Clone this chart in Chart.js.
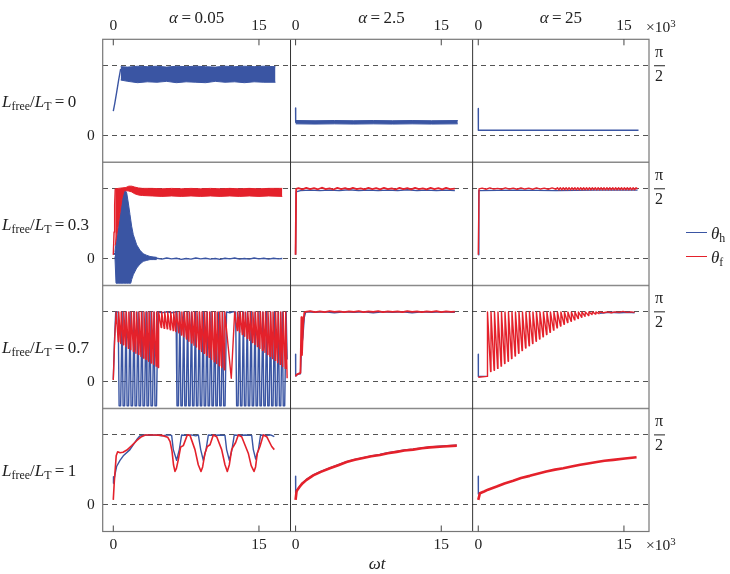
<!DOCTYPE html>
<html>
<head>
<meta charset="utf-8">
<script src="https://cdn.jsdelivr.net/npm/chart.js@4.4.1/dist/chart.umd.min.js"></script>
<style>
  html, body { margin: 0; padding: 0; background: #fff; }
  #wrap { position: relative; width: 730px; height: 574px; font-family: 'Liberation Serif', 'Times New Roman', serif; color: #222; }
  #chart { position: absolute; left: 0; top: 0; }
  .lbl { position: absolute; white-space: nowrap; line-height: 1; }
  .lbl sub { font-size: 70%; vertical-align: -0.3em; line-height: 0; }
  .lbl sup { font-size: 70%; vertical-align: 0.45em; line-height: 0; }
  .key { position: absolute; height: 0; border-top: 1.6px solid; width: 21px; }
</style>
</head>
<body>
<div id="wrap"><canvas id="chart" width="730" height="574"></canvas></div>
<script>
// ==========================
// Data (x in units of 10^3 ωt, y in rad)
// ==========================
const alphas = ['0.05', '2.5', '25'];
const ratios = ['0', '0.3', '0.7', '1'];
const xTicks = [0, 15];
const yTicks = [0, Math.PI / 2];

// row 1: Lfree/LT = 0
const thetaH_r1c1 = [[0,0.55],[0.15,0.72],[0.35,0.98],[0.55,1.25],[0.76,1.5]];
const bandH_r1c1_hi = [[0.76,1.55],[1.5,1.54],[2.5,1.56],[3.5,1.55],[4.5,1.56],[5.5,1.54],[6.5,1.56],[7.5,1.55],[8.5,1.56],[9.5,1.55],[10.5,1.54],[11.5,1.56],[12.5,1.55],[13.5,1.56],[14.5,1.55],[15.5,1.56],[16.7,1.55]];
const bandH_r1c1_lo = [[0.76,1.25],[1.5,1.22],[2.5,1.19],[3.5,1.21],[4.5,1.2],[5.5,1.22],[6.5,1.19],[7.5,1.21],[8.5,1.2],[9.5,1.19],[10.5,1.22],[11.5,1.2],[12.5,1.21],[13.5,1.19],[14.5,1.21],[15.5,1.2],[16.7,1.2]];
const thetaH_r1c2 = [[0,0.62],[0.01,0.3]];
const bandH_r1c2_hi = [[0.01,0.34],[2,0.335],[4,0.34],[6,0.335],[8,0.34],[10,0.335],[12,0.34],[14,0.335],[16.7,0.34]];
const bandH_r1c2_lo = [[0.01,0.265],[2,0.26],[4,0.265],[6,0.26],[8,0.265],[10,0.26],[12,0.265],[14,0.26],[16.7,0.265]];
const thetaH_r1c3 = [[0,0.61],[0.01,0.12],[4,0.12],[8,0.12],[12,0.12],[16.5,0.12]];

// row 2: Lfree/LT = 0.3
const thetaH_r2c1 = [[0,0.09],[0.1,0.12],[0.17,0.1],[4.47,0.01],[5,-0.01],[5.5,0.015],[6,-0.005],[6.5,0.01],[7,-0.015],[7.5,0.005],[8,-0.01],[8.5,0.015],[9,-0.005],[9.5,0.01],[10,-0.01],[10.5,0.005],[11,-0.015],[11.5,0.01],[12,-0.005],[12.5,0.015],[13,-0.01],[13.5,0.005],[14,-0.01],[14.5,0.015],[15,-0.005],[15.5,0.01],[16,-0.01],[16.5,0.01],[17,-0.005],[17.4,0.005]];
const bandH_r2c1_hi = [[0.17,0.15],[0.28,0.35],[0.5,0.7],[0.7,1.03],[0.9,1.35],[1.03,1.51],[1.2,1.55],[1.38,1.48],[1.55,1.25],[1.72,0.99],[1.89,0.73],[2.06,0.54],[2.41,0.31],[2.75,0.19],[3.09,0.11],[3.4,0.08],[3.78,0.05],[4.1,0.04],[4.47,0.03]];
const bandH_r2c1_lo = [[0.17,0.05],[0.28,-0.55],[0.5,-0.55],[0.7,-0.55],[0.9,-0.55],[1.03,-0.55],[1.2,-0.55],[1.38,-0.55],[1.55,-0.55],[1.8,-0.55],[1.89,-0.47],[2.06,-0.36],[2.41,-0.21],[2.75,-0.12],[3.09,-0.06],[3.4,-0.04],[3.78,-0.02],[4.1,-0.02],[4.47,-0.02]];
const thetaF_r2c1 = [[0,0.09],[0.08,0.6],[0.14,1.2],[0.2,1.57]];
const bandF_r2c1_hi = [[0.2,1.57],[0.5,1.58],[0.9,1.59],[1.3,1.6],[1.6,1.63],[1.9,1.63],[2.2,1.61],[2.6,1.59],[3,1.58],[4,1.58],[5,1.57],[6,1.58],[7,1.57],[8,1.58],[9,1.57],[10,1.58],[11,1.57],[12,1.58],[13,1.57],[14,1.58],[15,1.57],[16,1.58],[17.4,1.58]];
const bandF_r2c1_lo = [[0.2,0.3],[0.5,0.75],[0.9,1.35],[1.1,1.52],[1.3,1.53],[1.6,1.52],[1.9,1.5],[2.2,1.46],[2.6,1.43],[3,1.42],[4,1.41],[5,1.4],[6,1.41],[7,1.4],[8,1.41],[9,1.4],[10,1.41],[11,1.4],[12,1.41],[13,1.4],[14,1.41],[15,1.4],[16,1.41],[17.4,1.4]];
const thetaH_r2c2 = [[0,0.09],[0.05,1.5],[0.5,1.53],[1.5,1.54],[2.5,1.53],[3.5,1.54],[4.5,1.53],[5.5,1.55],[6.5,1.53],[7.5,1.54],[8.5,1.53],[9.5,1.54],[10.5,1.53],[11.5,1.55],[12.5,1.53],[13.5,1.54],[14.5,1.53],[15.5,1.54],[16.4,1.53]];
const thetaF_r2c2 = [[0,0.09],[0.06,1.57],[0.3,1.585],[0.7,1.56],[1.1,1.59],[1.5,1.565],[1.9,1.585],[2.3,1.56],[2.7,1.595],[3.1,1.565],[3.5,1.58],[3.9,1.555],[4.3,1.59],[4.7,1.565],[5.1,1.585],[5.5,1.56],[5.9,1.59],[6.3,1.565],[6.7,1.58],[7.1,1.56],[7.5,1.59],[7.9,1.565],[8.3,1.585],[8.7,1.56],[9.1,1.59],[9.5,1.565],[9.9,1.58],[10.3,1.555],[10.7,1.59],[11.1,1.565],[11.5,1.585],[11.9,1.56],[12.3,1.59],[12.7,1.565],[13.1,1.58],[13.5,1.56],[13.9,1.59],[14.3,1.565],[14.7,1.585],[15.1,1.56],[15.5,1.59],[15.9,1.565],[16.4,1.575]];
const thetaH_r2c3 = [[0,0.09],[0.06,1.53],[4,1.54],[8,1.53],[12,1.54],[16.4,1.54]];
const thetaF_r2c3 = [[0,0.09],[0.08,1.57],[0.4,1.585],[0.8,1.56],[1.2,1.59],[1.6,1.565],[2,1.58],[2.4,1.56],[2.8,1.59],[3.2,1.565],[3.6,1.585],[4,1.56],[4.4,1.59],[4.8,1.565],[5.2,1.585],[5.6,1.56],[6,1.59],[6.4,1.565],[6.8,1.585],[7.2,1.56],[7.6,1.59],[8,1.56],
  [8.15,1.595],[8.3,1.55],[8.45,1.595],[8.6,1.55],[8.75,1.595],[8.9,1.55],[9.05,1.595],[9.2,1.55],[9.35,1.595],[9.5,1.55],[9.65,1.595],[9.8,1.55],[9.95,1.595],[10.1,1.55],[10.25,1.595],[10.4,1.55],[10.55,1.595],[10.7,1.55],[10.85,1.595],[11,1.55],[11.15,1.595],[11.3,1.55],[11.45,1.595],[11.6,1.55],[11.75,1.595],[11.9,1.55],[12.05,1.595],[12.2,1.55],[12.35,1.595],[12.5,1.55],[12.65,1.595],[12.8,1.55],[12.95,1.595],[13.1,1.55],[13.25,1.595],[13.4,1.55],[13.55,1.595],[13.7,1.55],[13.85,1.595],[14,1.55],[14.15,1.595],[14.3,1.55],[14.45,1.595],[14.6,1.55],[14.75,1.595],[14.9,1.55],[15.05,1.595],[15.2,1.55],[15.35,1.595],[15.5,1.55],[15.65,1.595],[15.8,1.55],[15.95,1.595],[16.1,1.55],[16.25,1.595],[16.4,1.57]];

// row 3: Lfree/LT = 0.7
const thetaH_r3c1 = [[0,0.05],[0.12,0.9],[0.25,1.57],[0.5,1.57],
  [0.6,-0.54],[0.76,-0.54],[0.91,1.57],[1.01,-0.54],[1.17,-0.54],[1.32,1.57],[1.42,-0.54],[1.58,-0.54],[1.73,1.57],
  [1.83,-0.54],[1.99,-0.54],[2.14,1.57],[2.24,-0.54],[2.4,-0.54],[2.55,1.57],[2.65,-0.54],[2.81,-0.54],[2.96,1.57],
  [3.06,-0.54],[3.22,-0.54],[3.37,1.57],[3.47,-0.54],[3.63,-0.54],[3.78,1.57],[3.88,-0.54],[4.04,-0.54],[4.19,1.57],
  [4.29,-0.54],[4.45,-0.54],[4.6,1.57],[5,1.55],[5.5,1.57],[6,1.55],[6.46,1.57],
  [6.56,-0.54],[6.71,-0.54],[6.86,1.57],[6.96,-0.54],[7.11,-0.54],[7.26,1.57],[7.36,-0.54],[7.51,-0.54],[7.66,1.57],
  [7.76,-0.54],[7.91,-0.54],[8.06,1.57],[8.16,-0.54],[8.31,-0.54],[8.46,1.57],[8.56,-0.54],[8.71,-0.54],[8.86,1.57],
  [8.96,-0.54],[9.11,-0.54],[9.26,1.57],[9.36,-0.54],[9.51,-0.54],[9.66,1.57],[9.76,-0.54],[9.91,-0.54],[10.06,1.57],
  [10.16,-0.54],[10.31,-0.54],[10.46,1.57],[10.56,-0.54],[10.71,-0.54],[10.86,1.57],[10.96,-0.54],[11.11,-0.54],[11.26,1.57],
  [11.36,-0.54],[11.51,-0.54],[11.66,1.57],[12,1.55],[12.3,1.57],[12.6,1.57],
  [12.7,-0.54],[12.85,-0.54],[13,1.57],[13.1,-0.54],[13.25,-0.54],[13.4,1.57],[13.5,-0.54],[13.65,-0.54],[13.8,1.57],
  [13.9,-0.54],[14.05,-0.54],[14.2,1.57],[14.3,-0.54],[14.45,-0.54],[14.6,1.57],[14.7,-0.54],[14.85,-0.54],[15,1.57],
  [15.1,-0.54],[15.25,-0.54],[15.4,1.57],[15.5,-0.54],[15.65,-0.54],[15.8,1.57],[15.9,-0.54],[16.05,-0.54],[16.2,1.57],
  [16.3,-0.54],[16.45,-0.54],[16.6,1.57],[16.7,-0.54],[16.85,-0.54],[17,1.57],[17.1,-0.54],[17.25,-0.54],[17.4,1.57],
  [17.5,-0.54],[17.65,-0.54],[17.8,1.57],[17.9,0.5]];
const thetaF_r3c1 = [[0,0.04],[0.15,1.0],[0.3,1.57],
  [0.51,0.9],[0.56,1.57],[0.77,0.86],[0.82,1.57],[1.03,0.83],[1.08,1.57],[1.29,0.79],[1.34,1.57],[1.55,0.75],[1.6,1.57],
  [1.81,0.72],[1.86,1.57],[2.07,0.68],[2.12,1.57],[2.33,0.64],[2.38,1.57],[2.59,0.61],[2.64,1.57],[2.85,0.57],[2.9,1.57],
  [3.11,0.53],[3.16,1.57],[3.37,0.5],[3.42,1.57],[3.63,0.46],[3.68,1.57],[3.89,0.42],[3.94,1.57],[4.15,0.39],[4.2,1.57],
  [4.41,0.35],[4.46,1.57],[4.62,0.32],[4.67,1.57],
  [4.93,1.22],[4.98,1.57],[5.24,1.2],[5.29,1.57],[5.55,1.19],[5.6,1.57],[5.86,1.17],[5.91,1.57],[6.17,1.15],[6.22,1.57],[6.44,1.13],[6.49,1.57],
  [6.75,1.1],[6.8,1.57],[7.01,1.05],[7.06,1.57],[7.27,1.01],[7.32,1.57],[7.53,0.96],[7.58,1.57],[7.79,0.91],[7.84,1.57],
  [8.05,0.87],[8.1,1.57],[8.31,0.82],[8.36,1.57],[8.57,0.78],[8.62,1.57],[8.83,0.73],[8.88,1.57],[9.09,0.68],[9.14,1.57],
  [9.35,0.64],[9.4,1.57],[9.61,0.59],[9.66,1.57],[9.87,0.55],[9.92,1.57],[10.13,0.5],[10.18,1.57],[10.39,0.45],[10.44,1.57],
  [10.65,0.41],[10.7,1.57],[10.91,0.36],[10.96,1.57],[11.17,0.32],[11.22,1.57],[11.43,0.27],[11.48,1.57],
  [12.15,0.08],[12.5,1.57],
  [12.76,1.15],[12.81,1.57],[13.02,1.11],[13.07,1.57],[13.28,1.06],[13.33,1.57],[13.54,1.02],[13.59,1.57],[13.8,0.97],[13.85,1.57],
  [14.06,0.93],[14.11,1.57],[14.32,0.88],[14.37,1.57],[14.58,0.84],[14.63,1.57],[14.84,0.79],[14.89,1.57],[15.1,0.75],[15.15,1.57],
  [15.36,0.7],[15.41,1.57],[15.62,0.66],[15.67,1.57],[15.88,0.61],[15.93,1.57],[16.14,0.57],[16.19,1.57],[16.4,0.52],[16.45,1.57],
  [16.66,0.48],[16.71,1.57],[16.92,0.43],[16.97,1.57],[17.18,0.39],[17.23,1.57],[17.44,0.34],[17.49,1.57],[17.7,0.3],[17.75,1.57],
  [17.9,0.08]];
const thetaH_r3c2 = [[0,0.62],[0.01,0.13],[0.25,0.17],[0.5,0.18],[0.62,0.8],[0.75,1.0],[0.9,1.45],[1.05,1.57],[2,1.56],[3,1.57],[4,1.55],[5,1.57],[6,1.56],[7,1.57],[8,1.55],[9,1.57],[10,1.56],[11,1.57],[12,1.55],[13,1.57],[14,1.56],[15,1.57],[16.4,1.56]];
const thetaF_r3c2 = [[0,0.12],[0.1,0.16],[0.5,0.2],[0.6,1.45],[0.66,0.6],[0.78,1.3],[0.9,1.55],[1,1.57],[1.5,1.585],[2,1.565],[2.5,1.58],[3,1.565],[3.5,1.585],[4,1.57],[4.5,1.58],[5,1.565],[5.5,1.58],[6,1.57],[6.5,1.585],[7,1.565],[7.5,1.58],[8,1.57],[8.5,1.585],[9,1.565],[9.5,1.58],[10,1.57],[10.5,1.58],[11,1.565],[11.5,1.585],[12,1.57],[12.5,1.58],[13,1.565],[13.5,1.58],[14,1.57],[14.5,1.585],[15,1.565],[15.5,1.58],[16,1.57],[16.4,1.575]];
const thetaH_r3c3 = [[0,0.62],[0.01,0.12],[0.9,0.12],[1,null],[12.5,1.54],[13.5,1.56],[14.5,1.55],[15.5,1.56],[16.1,1.55]];
const thetaF_r3c3 = [[0,0.1],[0.9,0.12],[0.95,1.57],
  [1.27,0.23],[1.31,1.57],[1.63,0.26],[1.67,1.57],[1.99,0.3],[2.03,1.57],[2.35,0.35],[2.39,1.57],[2.71,0.41],[2.75,1.57],
  [3.07,0.46],[3.11,1.57],[3.43,0.52],[3.47,1.57],[3.79,0.58],[3.83,1.57],[4.15,0.64],[4.19,1.57],[4.51,0.7],[4.55,1.57],
  [4.87,0.76],[4.91,1.57],[5.23,0.81],[5.27,1.57],[5.59,0.86],[5.63,1.57],[5.95,0.91],[5.99,1.57],[6.31,0.96],[6.35,1.57],
  [6.67,1.01],[6.71,1.57],[7.03,1.06],[7.07,1.57],[7.39,1.11],[7.43,1.57],[7.75,1.16],[7.79,1.57],[8.11,1.21],[8.15,1.57],
  [8.47,1.25],[8.51,1.57],[8.83,1.29],[8.87,1.57],[9.19,1.33],[9.23,1.57],[9.55,1.36],[9.59,1.57],[9.91,1.39],[9.95,1.57],
  [10.27,1.42],[10.31,1.57],[10.63,1.45],[10.67,1.57],[10.99,1.47],[11.03,1.57],[11.35,1.49],[11.39,1.57],[11.71,1.51],[11.75,1.57],
  [12.07,1.52],[12.11,1.57],[12.43,1.53],[12.47,1.57],
  [12.9,1.55],[13.3,1.57],[13.7,1.55],[14.1,1.57],[14.5,1.56],[14.9,1.58],[15.3,1.56],[15.7,1.57],[16.1,1.56]];

// row 4: Lfree/LT = 1
const thetaH_r4c1 = [[0,0.48],[0.02,0.63],[0.1,0.6],[0.34,0.86],[0.69,1.0],[1.03,1.1],[1.72,1.24],[2.4,1.46],[2.75,1.55],[3.2,1.57],[3.8,1.56],[4.4,1.57],[5,1.55],[5.6,1.57],[6.01,1.56],[6.18,1.24],[6.52,1.0],[6.8,1.24],[7.04,1.57],[7.5,1.56],[8,1.57],[8.5,1.55],[8.76,1.57],[9,1.24],[9.27,1.0],[9.55,1.24],[9.79,1.57],[10.3,1.56],[10.9,1.57],[11.5,1.56],[11.67,1.24],[11.95,1.0],[12.22,1.24],[12.46,1.57],[13,1.56],[13.6,1.57],[14.25,1.56],[14.42,1.24],[14.66,1.03],[14.94,1.24],[15.17,1.57],[15.7,1.56],[16.2,1.57],[16.58,1.53]];
const thetaF_r4c1 = [[0,0.11],[0.1,0.5],[0.3,1.1],[0.45,1.19],[0.7,1.17],[1,1.18],[1.4,1.23],[1.9,1.33],[2.4,1.44],[2.9,1.53],[3.3,1.57],[4.2,1.57],[5,1.56],[5.6,1.52],[5.85,1.42],[6.05,1.2],[6.2,0.9],[6.35,0.75],[6.5,0.82],[6.69,1.01],[6.94,1.3],[7.21,1.33],[7.62,1.57],[7.9,1.56],[8.41,1.24],[8.75,0.9],[9.03,0.75],[9.2,0.85],[9.44,1.16],[9.68,1.31],[9.96,1.35],[10.3,1.57],[10.65,1.53],[11.16,1.24],[11.5,0.9],[11.74,0.75],[11.95,0.9],[12.19,1.24],[12.36,1.31],[12.6,1.4],[12.87,1.57],[13.22,1.53],[13.9,1.16],[14.2,0.88],[14.49,0.75],[14.65,0.85],[14.83,1.16],[15.1,1.31],[15.45,1.57],[15.8,1.53],[16.31,1.31],[16.58,1.24]];
const thetaH_r4c2 = [[0,0.64],[0.01,0.24],[0.1,0.31],[0.2,0.35],[0.44,0.42],[0.7,0.49],[1.13,0.57],[1.82,0.67],[2.6,0.75],[3.53,0.83],[4.4,0.9],[5.25,0.97],[6.1,1.02],[6.96,1.06],[7.8,1.1],[8.68,1.13],[9.5,1.17],[10.4,1.2],[11.2,1.23],[12.1,1.25],[13,1.28],[13.8,1.3],[15.2,1.32],[16.6,1.34]];
const thetaF_r4c2 = [[0,0.11],[0.1,0.3],[0.2,0.34],[0.44,0.41],[0.7,0.48],[1.13,0.56],[1.82,0.66],[2.6,0.74],[3.53,0.82],[4.4,0.89],[5.25,0.96],[6.1,1.01],[6.96,1.05],[7.8,1.09],[8.68,1.12],[9.5,1.16],[10.4,1.19],[11.2,1.22],[12.1,1.24],[13,1.27],[13.8,1.29],[15.2,1.31],[16.6,1.33]];
const thetaH_r4c3 = [[0,0.64],[0.01,0.24],[0.17,0.26]];
const thetaF_r4c3 = [[0,0.11],[0.17,0.26],[0.6,0.3],[1,0.34],[1.9,0.41],[2.7,0.48],[3.6,0.54],[4.4,0.6],[5.3,0.65],[6.1,0.7],[7,0.75],[7.9,0.79],[8.75,0.82],[9.6,0.86],[10.5,0.9],[11.3,0.93],[12.2,0.96],[13,0.99],[13.9,1.01],[15.1,1.04],[16.3,1.07]];

// ==========================
// Panel setup
// ==========================
const BLUE = '#3a55a3';
const RED = '#e4212b';
const SERIF = "'Liberation Serif', 'Times New Roman', serif";
const colRanges = [[-1.09, 18.25], [-0.52, 18.23], [-0.58, 17.58]];
const yMin = -0.6, yMax = 2.165;

const panels = [
  { r: 0, c: 0, h: thetaH_r1c1, hBand: [bandH_r1c1_hi, bandH_r1c1_lo] },
  { r: 0, c: 1, h: thetaH_r1c2, hBand: [bandH_r1c2_hi, bandH_r1c2_lo] },
  { r: 0, c: 2, h: thetaH_r1c3 },
  { r: 1, c: 0, h: thetaH_r2c1, hBand: [bandH_r2c1_hi, bandH_r2c1_lo], f: thetaF_r2c1, fBand: [bandF_r2c1_hi, bandF_r2c1_lo] },
  { r: 1, c: 1, h: thetaH_r2c2, f: thetaF_r2c2, fw: 1.8 },
  { r: 1, c: 2, h: thetaH_r2c3, f: thetaF_r2c3 },
  { r: 2, c: 0, h: thetaH_r3c1, f: thetaF_r3c1 },
  { r: 2, c: 1, h: thetaH_r3c2, f: thetaF_r3c2, fw: 1.8 },
  { r: 2, c: 2, h: thetaH_r3c3, f: thetaF_r3c3 },
  { r: 3, c: 0, h: thetaH_r4c1, f: thetaF_r4c1, fw: 1.6 },
  { r: 3, c: 1, h: thetaH_r4c2, f: thetaF_r4c2, fw: 2.6 },
  { r: 3, c: 2, h: thetaH_r4c3, f: thetaF_r4c3, fw: 2.6 }
];

function lineSet(data, color, p, width, order, fill) {
  return {
    data, xAxisID: 'x' + p.c, yAxisID: 'y' + p.r,
    borderColor: color, backgroundColor: color, borderWidth: width,
    borderJoinStyle: 'round', pointRadius: 0, tension: 0, spanGaps: false,
    fill: fill || false, order
  };
}

const datasets = [];
panels.forEach(p => {
  if (p.hBand) {
    datasets.push(lineSet(p.hBand[0], BLUE, p, 1, 1));
    datasets.push(lineSet(p.hBand[1], BLUE, p, 1, 1, '-1'));
  }
  datasets.push(lineSet(p.h, BLUE, p, 1.4, 1));
  if (p.fBand) {
    datasets.push(lineSet(p.fBand[0], RED, p, 1, 0));
    datasets.push(lineSet(p.fBand[1], RED, p, 1, 0, '-1'));
  }
  if (p.f) datasets.push(lineSet(p.f, RED, p, p.fw || 1.4, 0));
});

// ==========================
// Scales
// ==========================
const tickFont = { family: SERIF, size: 15.5 };
const scales = {};

function xAxis(position, range, weight) {
  return {
    type: 'linear', position, weight,
    stack: position === 'top' ? 'colsTop' : 'colsBottom',
    stackWeight: range[1] - range[0],
    min: range[0], max: range[1],
    afterBuildTicks: s => { s.ticks = xTicks.map(v => ({ value: v })); },
    afterFit: s => { s.height = position === 'top' ? 20 : 24; },
    grid: { display: false, drawTicks: false },
    border: { display: false },
    ticks: { padding: 4, maxRotation: 0, autoSkip: false, color: '#222', font: tickFont, callback: v => String(v) }
  };
}

colRanges.forEach((range, c) => {
  scales['x' + c] = xAxis('bottom', range, c + 1);
  scales['xt' + c] = xAxis('top', range, 3 - c);
});

ratios.forEach((_, r) => {
  scales['y' + r] = {
    type: 'linear', position: 'left', stack: 'rowsLeft', stackWeight: 1, weight: 4 - r,
    min: yMin, max: yMax,
    afterBuildTicks: s => { s.ticks = yTicks.map(v => ({ value: v })); },
    afterFit: s => { s.width = 30; },
    grid: { display: true, drawTicks: false, color: '#555', lineWidth: 1 },
    border: { display: false, dash: [5, 4] },
    ticks: { padding: 8, color: '#222', font: tickFont, callback: v => (v === 0 ? '0' : '') }
  };
  scales['yr' + r] = {
    type: 'linear', position: 'right', stack: 'rowsRight', stackWeight: 1, weight: r + 1,
    min: yMin, max: yMax,
    afterBuildTicks: s => { s.ticks = [{ value: yTicks[1] }]; },
    afterFit: s => { s.width = 30; },
    grid: { display: false, drawTicks: false },
    border: { display: false },
    ticks: { padding: 6, color: '#222', labelOffset: -1, font: { family: SERIF, size: 16, lineHeight: 1.55 }, callback: () => ['π', '2'] }
  };
});

// frame, dividers, inward ticks and fraction bars
const panelFrame = {
  id: 'panelFrame',
  afterDraw(chart) {
    const { ctx, chartArea: a } = chart;
    const seg = (x1, y1, x2, y2) => { ctx.beginPath(); ctx.moveTo(x1, y1); ctx.lineTo(x2, y2); ctx.stroke(); };
    ctx.save();
    ctx.strokeStyle = '#8a8a8a';
    ctx.lineWidth = 1.5;
    for (let r = 0; r < ratios.length - 1; r++) {
      const y = chart.scales['y' + r].bottom;
      seg(a.left, y, a.right, y);
    }
    ctx.strokeStyle = '#333';
    ctx.lineWidth = 1;
    for (let c = 0; c < alphas.length - 1; c++) {
      const x = chart.scales['x' + c].right;
      seg(x, a.top, x, a.bottom);
    }
    ctx.strokeStyle = '#777';
    ctx.lineWidth = 1.2;
    ctx.strokeRect(a.left, a.top, a.right - a.left, a.bottom - a.top);
    ctx.strokeStyle = '#444';
    ctx.lineWidth = 1;
    alphas.forEach((_, c) => {
      const s = chart.scales['x' + c];
      xTicks.forEach(v => {
        const px = s.getPixelForValue(v);
        seg(px, a.top, px, a.top + 6);
        seg(px, a.bottom, px, a.bottom - 6);
      });
    });
    ctx.strokeStyle = '#222';
    ratios.forEach((_, r) => {
      const s = chart.scales['yr' + r];
      const y = s.getPixelForValue(yTicks[1]);
      seg(s.left + 5, y, s.left + 16, y);
    });
    ctx.restore();
  }
};

const chart = new Chart(document.getElementById('chart'), {
  type: 'line',
  data: { datasets },
  options: {
    responsive: false,
    devicePixelRatio: 1,
    animation: false,
    events: [],
    layout: { padding: { left: 72.7, right: 51, top: 19.3, bottom: 18.5 } },
    plugins: { legend: { display: false }, tooltip: { enabled: false } },
    scales
  },
  plugins: [panelFrame]
});

// ==========================
// Text labels
// ==========================
const wrap = document.getElementById('wrap');
function addLabel(html, x, y, size, align) {
  const d = document.createElement('div');
  d.className = 'lbl';
  d.innerHTML = html;
  d.style.left = x + 'px';
  d.style.top = y + 'px';
  d.style.fontSize = size + 'px';
  d.style.transform = align === 'center' ? 'translate(-50%, -50%)' : 'translate(0, -50%)';
  wrap.appendChild(d);
}

alphas.forEach((a, c) => {
  const s = chart.scales['x' + c];
  addLabel('<i>α</i>\u2009=\u2009' + a, (s.left + s.right) / 2, 17, 17, 'center');
});
ratios.forEach((v, r) => {
  const s = chart.scales['y' + r];
  addLabel('<i>L</i><sub>free</sub>/<i>L</i><sub>T</sub>\u2009=\u2009' + v, 2, (s.top + s.bottom) / 2, 17, 'left');
});
const area = chart.chartArea;
addLabel('×10<sup>3</sup>', area.right - 3, 27, 15.5, 'left');
addLabel('×10<sup>3</sup>', area.right - 3, 545, 15.5, 'left');
addLabel('<i>ωt</i>', 377, 563, 17, 'center');

[['h', BLUE, 233], ['f', RED, 256.5]].forEach(([sub, color, y]) => {
  const k = document.createElement('div');
  k.className = 'key';
  k.style.left = '686px';
  k.style.top = (y - 0.8) + 'px';
  k.style.borderColor = color;
  wrap.appendChild(k);
  addLabel('<i>θ</i><sub>' + sub + '</sub>', 711, y, 17, 'left');
});
</script>
</body>
</html>
